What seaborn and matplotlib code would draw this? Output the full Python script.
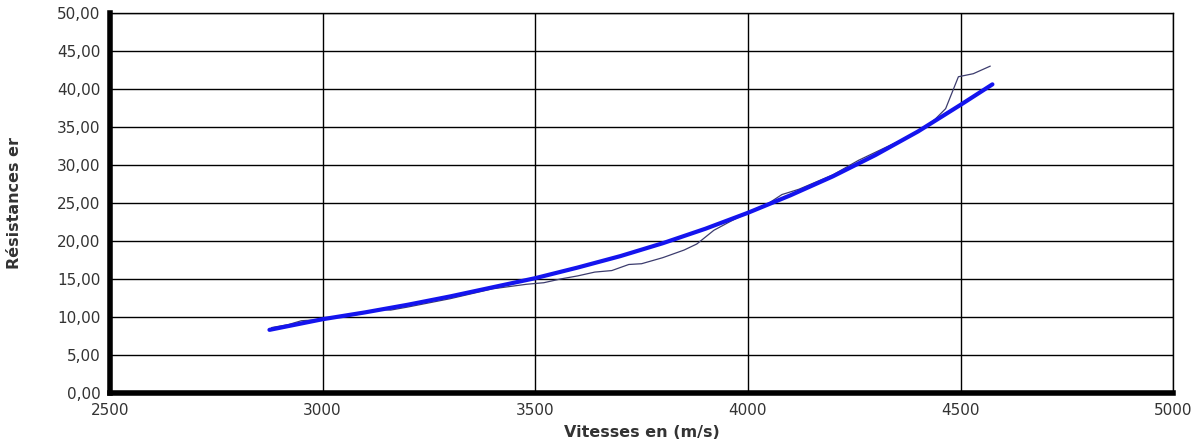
import seaborn as sns
import matplotlib.pyplot as plt
import pandas as pd
from matplotlib.ticker import FuncFormatter, MultipleLocator

# Measured values (thin line)
vitesse = [2880, 2920, 2950, 2980, 3000, 3050, 3100, 3130, 3160, 3200, 3300, 3400,
           3480, 3520, 3560, 3600, 3640, 3680, 3720, 3750, 3800, 3850, 3880, 3920,
           3960, 4000, 4050, 4080, 4120, 4200, 4260, 4320, 4400, 4440, 4465, 4495,
           4530, 4570]
resistance = [8.6, 9.0, 9.5, 9.6, 9.8, 10.0, 10.5, 11.0, 10.9, 11.3, 12.4, 13.7,
              14.3, 14.5, 15.0, 15.4, 15.9, 16.1, 16.9, 17.0, 17.8, 18.8, 19.6, 21.4,
              22.6, 23.7, 25.0, 26.1, 26.8, 28.7, 30.6, 32.2, 34.3, 36.0, 37.4, 41.6,
              42.0, 43.0]

# Trend curve (thick blue line)
vitesse_tendance = [2875, 3000, 3100, 3200, 3300, 3400, 3500, 3600, 3700, 3800,
                    3900, 4000, 4100, 4200, 4300, 4400, 4500, 4575]
resistance_tendance = [8.3, 9.7, 10.6, 11.6, 12.7, 13.9, 15.1, 16.5, 18.0, 19.7,
                       21.6, 23.7, 26.0, 28.5, 31.3, 34.4, 37.9, 40.6]

mesures = pd.DataFrame({"vitesse": vitesse, "resistance": resistance})
tendance = pd.DataFrame({"vitesse": vitesse_tendance, "resistance": resistance_tendance})

sns.set_style("white")
plt.rcParams['font.family'] = ['DejaVu Sans']

fig = plt.figure(figsize=(12.02, 4.45), dpi=100)
ax = fig.add_axes([0.0915, 0.117, 0.8845, 0.854])

# Measured curve and trend line
sns.lineplot(x="vitesse", y="resistance", data=mesures, color='#3c3c6e', linewidth=0.9, ax=ax)
sns.lineplot(x="vitesse", y="resistance", data=tendance, color='#1414ee', linewidth=3.0, ax=ax)

ax.set_xlim(2500, 5000)
ax.set_ylim(0, 50)
ax.xaxis.set_major_locator(MultipleLocator(500))
ax.yaxis.set_major_locator(MultipleLocator(5))
ax.yaxis.set_major_formatter(FuncFormatter(lambda v, p: f"{v:.2f}".replace('.', ',')))

# Black grid, thick left/bottom axes
ax.grid(True, color='black', linewidth=1.0)
ax.set_axisbelow(True)
for side in ['top', 'right']:
    ax.spines[side].set_color('black')
    ax.spines[side].set_linewidth(1.0)
for side in ['left', 'bottom']:
    ax.spines[side].set_color('black')
    ax.spines[side].set_linewidth(4.0)

ax.tick_params(axis='both', which='major', direction='out', length=4, width=3,
               color='black', labelsize=11, labelcolor='#333333', pad=3)

ax.set_xlabel("Vitesses en (m/s)", fontsize=11.5, fontweight='bold', color='#333333')
ax.set_ylabel("Résistances er", fontsize=11.5, fontweight='bold', color='#333333')
ax.xaxis.set_label_coords(0.5, -0.085)
ax.yaxis.set_label_coords(-0.083, 0.5)

plt.savefig("out.png", dpi=100)
